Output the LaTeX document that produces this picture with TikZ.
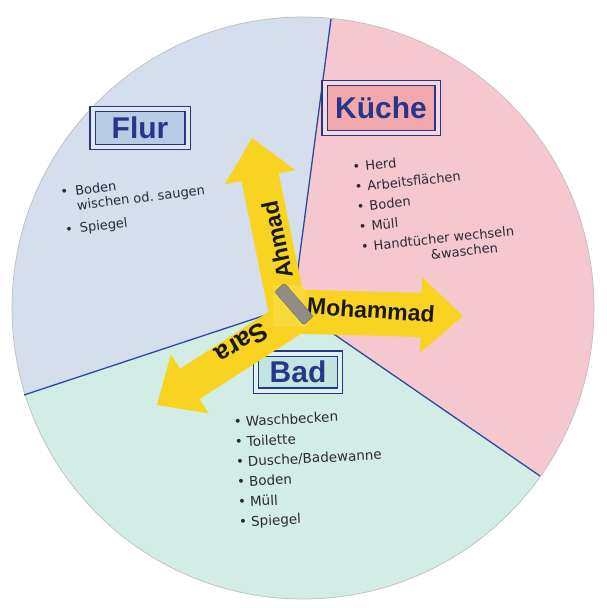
\documentclass[tikz,border=0pt]{standalone}
\usepackage{fontspec}
\setmainfont{DejaVu Sans}
\newfontfamily\titlefont{Liberation Sans}
\usetikzlibrary{calc}
\definecolor{flurbg}{HTML}{D4DEEC}
\definecolor{kuechebg}{HTML}{F4C8CE}
\definecolor{badbg}{HTML}{D2ECE6}
\definecolor{flurbox}{HTML}{B9CCE6}
\definecolor{kuechebox}{HTML}{F2A9AE}
\definecolor{badbox}{HTML}{C2E6DF}
\definecolor{navy}{HTML}{26378A}
\definecolor{linecol}{HTML}{2D4A9E}
\definecolor{ink}{HTML}{2A2A36}
\definecolor{yel}{HTML}{F9D322}
\definecolor{clipgray}{HTML}{8F8D86}
\definecolor{clipedge}{HTML}{6E6C66}
\newcommand\yelarrow[5]{%
  \coordinate (#2h) at ($(#2)!#4!(#1)$);
  \fill[yel] ($(#1)!#3!90:(#2)$) -- ($(#2h)!#3!90:(#2)$) -- ($(#2h)!#5!90:(#2)$)
    -- (#2) -- ($(#2h)!#5!-90:(#2)$) -- ($(#2h)!#3!-90:(#2)$) -- ($(#1)!#3!-90:(#2)$) -- cycle;}
\tikzset{
  titlebox/.style={draw=navy, line width=1.2pt, double distance=4pt, inner sep=0pt,
    text=navy, font=\titlefont\bfseries\fontsize{30}{30}\selectfont},
  listtext/.style={text=ink, inner sep=0pt, anchor=base west,
    font=\fontsize{13}{20}\selectfont},
  nametext/.style={text=black!90, inner sep=0pt,
    font=\titlefont\bfseries\fontsize{23}{23}\selectfont},
  sector/.style={line width=1.3pt, draw=linecol}
}
\begin{document}
\begin{tikzpicture}[x=1pt,y=-1pt]
\useasboundingbox (0,0) rectangle (607,608);
\fill[white] (0,0) rectangle (607,608);
\coordinate (O) at (293,306);
\coordinate (C) at (303,308);
\coordinate (A1) at (331,19);
\coordinate (A2) at (24,395);
\coordinate (A3) at (540,476);
% sectors
\begin{scope}
  \clip (O) -- (339,-38) -- (-40,-40) -- (-40,416) -- cycle;
  \fill[flurbg] (C) circle[radius=291pt];
\end{scope}
\begin{scope}
  \clip (O) -- (339,-38) -- (650,-40) -- (650,552) -- cycle;
  \fill[kuechebg] (C) circle[radius=291pt];
\end{scope}
\begin{scope}
  \clip (O) -- (-40,416) -- (-40,650) -- (650,650) -- (650,552) -- cycle;
  \fill[badbg] (C) circle[radius=291pt];
\end{scope}
\draw[gray!50, line width=0.7pt] (C) circle[radius=291pt];
\draw[sector] (O) -- (A1);
\draw[sector] (O) -- (A2);
\draw[sector] (O) -- (A3);
% titles
\node[titlebox, fill=flurbox, double=flurbg!70!white, minimum width=95pt, minimum height=38pt] (flur) at (140,128) {Flur};
\node[titlebox, fill=kuechebox, double=kuechebg!70!white, minimum width=113pt, minimum height=50pt] (kueche) at (381,108) {Küche};
\node[titlebox, fill=badbox, double=badbg!70!white, minimum width=84pt, minimum height=37pt] (bad) at (298,372) {Bad};
% lists
\node[listtext, rotate=7, font=\fontsize{13}{16}\selectfont] (flurlist) at (61,197) {\begin{tabular}[t]{@{}l@{\hspace{7pt}}l@{}}
• & Boden\\[-1pt]
  & wischen od.\ saugen\\[7pt]
• & Spiegel
\end{tabular}};
\node[listtext, rotate=6] (kuechelist) at (353,172) {\begin{tabular}[t]{@{}l@{\hspace{5pt}}l@{}}
• & Herd\\
• & Arbeitsflächen\\
• & Boden\\
• & Müll\\
• & Handtücher wechseln\\[-5pt]
  & \hspace{56pt}\&waschen
\end{tabular}};
\node[listtext, rotate=3, font=\fontsize{13.5}{20}\selectfont] (badlist) at (234,427) {\begin{tabular}[t]{@{}l@{\hspace{4pt}}l@{}}
• & Waschbecken\\
• & Toilette\\
• & Dusche/Badewanne\\
• & Boden\\
• & Müll\\
• & Spiegel
\end{tabular}};
% spinner arrows
\coordinate (bS) at (300,313);
\coordinate (tS) at (157,405);
\coordinate (bA) at (289,318);
\coordinate (tA) at (252,138);
\coordinate (bM) at (270,311);
\coordinate (tM) at (463,316);
\yelarrow{bS}{tS}{18pt}{39pt}{35pt}
\yelarrow{bA}{tA}{19pt}{40pt}{36pt}
\yelarrow{bM}{tM}{22pt}{42pt}{38pt}
\node[fill=yel!60!white, opacity=0.3, minimum width=32pt, minimum height=42pt, inner sep=0pt] (tape) at (289,306) {};
\node[nametext, rotate=102] (ahmad) at (277,240) {Ahmad};
\node[nametext, rotate=-4] (mohammad) at (371,310) {Mohammad};
\node[nametext, rotate=210, font=\titlefont\bfseries\fontsize{26}{26}\selectfont] (sara) at (242,343) {Sara};
\node[draw=clipedge, fill=clipgray, rotate=-49, minimum width=44pt, minimum height=13pt, inner sep=0pt, rounded corners=1.5pt] (clip) at (294,304) {};
\end{tikzpicture}
\end{document}
